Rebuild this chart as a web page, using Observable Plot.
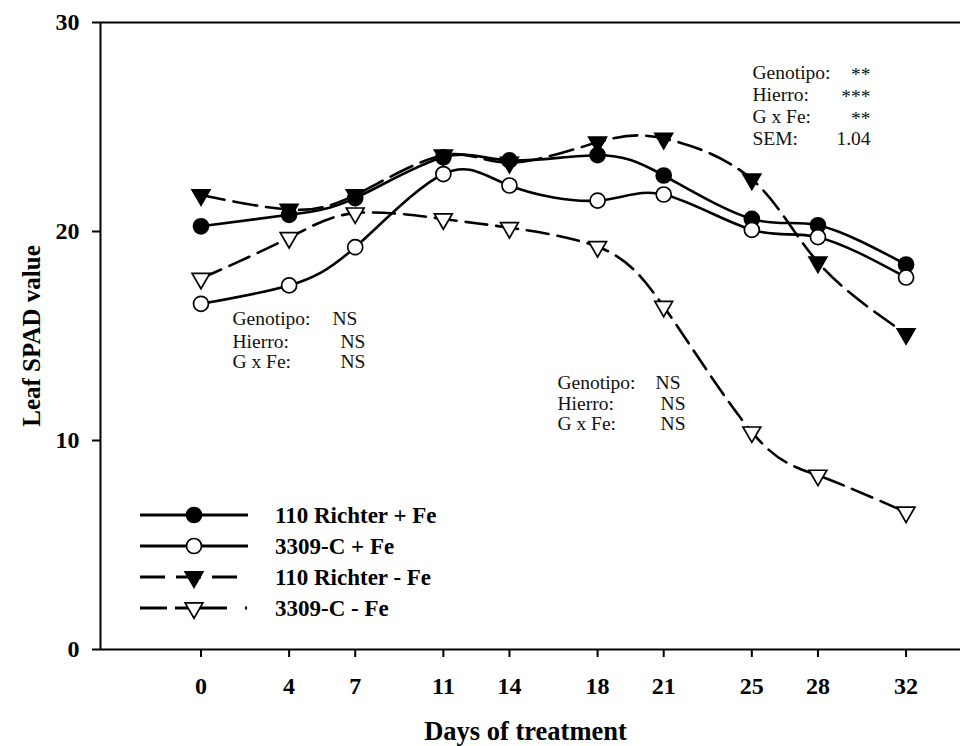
<!DOCTYPE html>
<html><head><meta charset="utf-8">
<script src="https://cdn.jsdelivr.net/npm/d3@7"></script>
<script src="https://cdn.jsdelivr.net/npm/@observablehq/plot@0.6"></script>
<style>
body{margin:0;background:#fff;}
#chart{position:relative;width:960px;height:746px;}
</style></head><body><div id="chart"></div>
<script>
// ---- data ----
const days = [0, 4, 7, 11, 14, 18, 21, 25, 28, 32];
const richterPlusFe  = [20.25, 20.8, 21.6, 23.55, 23.4, 23.65, 22.68, 20.6, 20.3, 18.42];
const c3309PlusFe    = [16.54, 17.42, 19.25, 22.75, 22.2, 21.48, 21.77, 20.08, 19.73, 17.8];
const richterMinusFe = [21.75, 21.05, 21.75, 23.65, 23.3, 24.27, 24.45, 22.5, 18.53, 15.1];
const c3309MinusFe   = [17.75, 19.7, 20.88, 20.6, 20.18, 19.27, 16.41, 10.4, 8.33, 6.57];
const seriesNames = ["110 Richter + Fe", "3309-C + Fe", "110 Richter - Fe", "3309-C - Fe"];
const yTicks = [0, 10, 20, 30];
const xTitle = "Days of treatment";
const yTitle = "Leaf SPAD value";

// annotation texts
const annoLabels1 = ["Genotipo:", "Hierro:", "G x Fe:"];
const annoValues1 = ["NS", "NS", "NS"];
const annoLabels2 = ["Genotipo:", "Hierro:", "G x Fe:"];
const annoValues2 = ["NS", "NS", "NS"];
const annoLabels3 = ["Genotipo:", "Hierro:", "G x Fe:", "SEM:"];
const annoValues3 = ["**", "***", "**", "1.04"];

// ---- layout / styles ----
const xDomain = [-4.56, 34.47];
const FONT = "Liberation Serif";
const styles = {
  "110 Richter + Fe": {dash: null, fill: "black", symbol: "circle", r: 7.5, rotate: 0, legendDash: null, legendEnd: 248},
  "3309-C + Fe":      {dash: null, fill: "white", symbol: "circle", r: 7.5, rotate: 0, legendDash: null, legendEnd: 248},
  "110 Richter - Fe": {dash: "24,9", fill: "black", symbol: "triangle", r: 6.6, rotate: 180, legendDash: "25,11", legendEnd: 237},
  "3309-C - Fe":      {dash: "22,9", fill: "white", symbol: "triangle", r: 6.6, rotate: 180, legendDash: "27,8,52,18,2,100", legendEnd: 248}
};
const valueArrays = [richterPlusFe, c3309PlusFe, richterMinusFe, c3309MinusFe];
const rows = seriesNames.flatMap((name, k) => days.map((d, i) => ({day: d, spad: valueArrays[k][i], series: name})));

// annotation positions in data units (day, SPAD)
const anno = [
  ...annoLabels1.map((t, i) => ({t, x: 1.43, y: [15.84, 14.74, 13.78][i], a: "start"})),
  ...annoValues1.map((t, i) => ({t, x: [5.97, 6.33, 6.33][i], y: [15.84, 14.74, 13.78][i], a: "start"})),
  ...annoLabels2.map((t, i) => ({t, x: 16.18, y: [12.78, 11.77, 10.81][i], a: "start"})),
  ...annoValues2.map((t, i) => ({t, x: [20.63, 20.86, 20.86][i], y: [12.78, 11.77, 10.81][i], a: "start"})),
  ...annoLabels3.map((t, i) => ({t, x: 25.03, y: [27.61, 26.56, 25.5, 24.45][i], a: "start"})),
  ...annoValues3.map((t, i) => ({t, x: 30.39, y: [27.49, 26.44, 25.38, 24.45][i], a: "end"}))
];

const seriesMarks = seriesNames.flatMap(name => {
  const s = styles[name];
  const data = rows.filter(r => r.series === name);
  return [
    Plot.line(data, {x: "day", y: "spad", curve: "natural", stroke: "black", strokeWidth: 2.6, strokeDasharray: s.dash}),
    Plot.dot(data, {x: "day", y: "spad", symbol: s.symbol, r: s.r, rotate: s.rotate, fill: s.fill, stroke: "black", strokeWidth: 1.7})
  ];
});

const chart = Plot.plot({
  width: 960, height: 746,
  marginLeft: 100, marginRight: 0, marginTop: 22, marginBottom: 97,
  x: {domain: xDomain},
  y: {domain: [0, 30]},
  style: {fontFamily: FONT, background: "white", color: "black", overflow: "visible"},
  marks: [
    Plot.ruleY([30], {stroke: "black", strokeWidth: 2}),
    Plot.ruleY([0], {stroke: "black", strokeWidth: 2}),
    Plot.ruleX([xDomain[0]], {stroke: "black", strokeWidth: 2}),
    Plot.axisY(yTicks, {anchor: "left", tickSize: 8, tickPadding: 13, strokeWidth: 2, fontSize: 24, fontWeight: "bold", fontFamily: FONT, label: null, tickFormat: d => String(d)}),
    Plot.axisX(days, {anchor: "bottom", tickSize: 8, tickPadding: 19, strokeWidth: 2, fontSize: 24, fontWeight: "bold", fontFamily: FONT, label: null, tickFormat: d => String(d)}),
    Plot.text([yTitle], {frameAnchor: "left", dx: -69, rotate: -90, textAnchor: "middle", lineAnchor: "middle", text: d => d, fontSize: 25, fontWeight: "bold", fontFamily: FONT, fill: "black"}),
    Plot.text([xTitle], {frameAnchor: "bottom", dy: 82, dx: -5, textAnchor: "middle", lineAnchor: "middle", text: d => d, fontSize: 26.5, fontWeight: "bold", fontFamily: FONT, fill: "black"}),
    ...seriesMarks,
    Plot.text(anno.filter(d => d.a === "start"), {x: "x", y: "y", text: "t", textAnchor: "start", fontSize: 19.5, fontFamily: FONT, fill: "#111"}),
    Plot.text(anno.filter(d => d.a === "end"), {x: "x", y: "y", text: "t", textAnchor: "end", fontSize: 19.5, fontFamily: FONT, fill: "#111"})
  ]
});
document.getElementById("chart").appendChild(chart);

// ---- legend ----
const svg = d3.select(chart);
const lg = svg.append("g").attr("aria-label", "legend").attr("text-anchor", "start");
const L = {x0: 140, mx: 194, y0: 515, dy: 31, tx: 275};
seriesNames.forEach((name, i) => {
  const s = styles[name];
  const y = L.y0 + i * L.dy;
  lg.append("line").attr("x1", L.x0).attr("x2", s.legendEnd).attr("y1", y).attr("y2", y)
    .attr("stroke", "black").attr("stroke-width", 2.8).attr("stroke-dasharray", s.legendDash);
  const sym = s.symbol === "circle" ? d3.symbolCircle : d3.symbolTriangle;
  lg.append("path").attr("d", d3.symbol(sym, Math.PI * s.r * s.r)())
    .attr("transform", `translate(${L.mx},${y}) rotate(${s.rotate})`)
    .attr("fill", s.fill).attr("stroke", "black").attr("stroke-width", 1.7);
  lg.append("text").attr("x", L.tx).attr("y", y).attr("dy", "0.36em")
    .attr("text-anchor", "start")
    .attr("font-family", FONT).attr("font-weight", "bold").attr("font-size", 23)
    .attr("fill", "black").text(name);
});
</script>
</body></html>
